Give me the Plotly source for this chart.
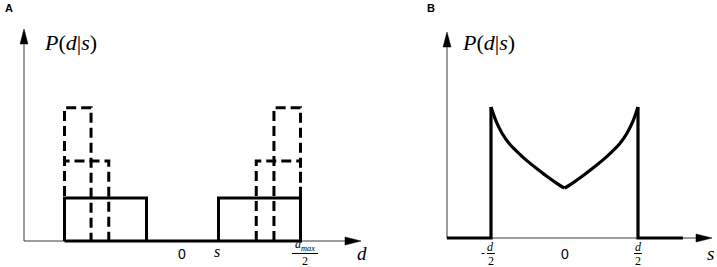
import plotly.graph_objects as go

# ---------------- data ----------------
# Panel A: d in units of d_max/2 ; heights in units of the solid (uniform) level
dmax_half = 1.0
s_val = 0.305
h_solid = 1.0
w_mid = 0.375
h_mid = 1.86
w_tall = 0.225
h_tall = 3.1

# Panel B: s in units of d/2 ; P normalised to its edge value
s_curve = [0.0, 0.1, 0.25, 0.4, 0.5, 0.6, 0.75, 0.85, 0.93, 1.0]
p_curve = [0.38, 0.415, 0.475, 0.54, 0.585, 0.635, 0.72, 0.8, 0.89, 1.0]
s_base_left = -1.6
s_base_right = 1.61

W, H = 717, 267
BLACK = "#000000"
AXC = "#3a3a3a"
SERIF = "Liberation Serif"
SANS = "Liberation Sans"

fig = go.Figure()

# ---- Panel A traces
xa = [-dmax_half, -dmax_half, -s_val, -s_val, s_val, s_val, dmax_half, dmax_half, -dmax_half]
ya = [0, h_solid, h_solid, 0, 0, h_solid, h_solid, 0, 0]
fig.add_trace(go.Scatter(x=xa, y=ya, mode="lines", xaxis="x", yaxis="y",
                         line=dict(color=BLACK, width=3), showlegend=False, hoverinfo="skip"))


def box_pair(w, h):
    xl = [-dmax_half, -dmax_half, -dmax_half + w, -dmax_half + w]
    xr = [dmax_half - w, dmax_half - w, dmax_half, dmax_half]
    yy = [0, h, h, 0]
    return xl + [None] + xr, yy + [None] + yy


for w, h in [(w_mid, h_mid), (w_tall, h_tall)]:
    bx, by = box_pair(w, h)
    fig.add_trace(go.Scatter(x=bx, y=by, mode="lines", xaxis="x", yaxis="y",
                             line=dict(color=BLACK, width=3, dash="10px,5px"),
                             showlegend=False, hoverinfo="skip"))

# ---- Panel B traces: frame (straight) + two smooth halves of the curve
fig.add_trace(go.Scatter(x=[s_base_left, -1.0, -1.0, None, 1.0, 1.0, s_base_right],
                         y=[0, 0, p_curve[-1], None, p_curve[-1], 0, 0],
                         mode="lines", xaxis="x2", yaxis="y2",
                         line=dict(color=BLACK, width=3.2), showlegend=False, hoverinfo="skip"))
fig.add_trace(go.Scatter(x=[-v for v in s_curve], y=p_curve, mode="lines", xaxis="x2", yaxis="y2",
                         line=dict(color=BLACK, width=3.2, shape="spline", smoothing=0.8),
                         showlegend=False, hoverinfo="skip"))
fig.add_trace(go.Scatter(x=s_curve, y=p_curve, mode="lines", xaxis="x2", yaxis="y2",
                         line=dict(color=BLACK, width=3.2, shape="spline", smoothing=0.8),
                         showlegend=False, hoverinfo="skip"))


# ---------------- decorations (pixel -> paper helpers) ----------------
def px(x):
    return x / W


def py(y):
    return 1 - y / H


shapes = []
annotations = []


def hline(x0, x1, y, color=AXC, width=1):
    shapes.append(dict(type="line", xref="paper", yref="paper", x0=px(x0), x1=px(x1),
                       y0=py(y), y1=py(y), line=dict(color=color, width=width), layer="below"))


def vline(x, y0, y1, color=AXC, width=1):
    shapes.append(dict(type="line", xref="paper", yref="paper", x0=px(x), x1=px(x),
                       y0=py(y0), y1=py(y1), line=dict(color=color, width=width), layer="below"))


def arrow_up(x, y):
    shapes.append(dict(type="path", xref="paper", yref="paper", xsizemode="pixel", ysizemode="pixel",
                       xanchor=px(x), yanchor=py(y), path="M0,0 L-4,-15 L4,-15 Z",
                       fillcolor=BLACK, line=dict(color=BLACK, width=0.5)))


def arrow_right(x, y):
    shapes.append(dict(type="path", xref="paper", yref="paper", xsizemode="pixel", ysizemode="pixel",
                       xanchor=px(x), yanchor=py(y), path="M0,0 L-16,4 L-16,-4 Z",
                       fillcolor=BLACK, line=dict(color=BLACK, width=0.5)))


def fbar(x0, x1, y):
    shapes.append(dict(type="line", xref="paper", yref="paper", x0=px(x0), x1=px(x1),
                       y0=py(y), y1=py(y), line=dict(color=BLACK, width=1)))


def text(x, y, t, size, family=SERIF, xanchor="center"):
    annotations.append(dict(xref="paper", yref="paper", x=px(x), y=py(y), text=t, showarrow=False,
                            xanchor=xanchor, yanchor="middle", borderpad=0,
                            font=dict(family=family, size=size, color=BLACK)))


# Panel A axes
vline(24, 267 - 26, 32)
arrow_up(24, 29)
hline(24, 346, 241)
arrow_right(361, 241)
# Panel B axes
vline(447, 238, 35)
arrow_up(447, 32)
hline(447, 697, 238)
arrow_right(712, 238)

# panel letters
text(9, 8, "<b>A</b>", 11, SANS)
text(431, 8, "<b>B</b>", 11, SANS)

# y labels
text(70, 43, "<i>P</i>(<i>d</i>|<i>s</i>)", 22)
text(489, 43, "<i>P</i>(<i>d</i>|<i>s</i>)", 22)

# Panel A tick labels
text(182, 254, "0", 14, SANS)
text(217, 251, "<i>s</i>", 16)
text(305, 245, "<i>d<sub>max</sub></i>", 12)
fbar(292, 318, 253.5)
text(305, 261, "2", 12)
text(362, 253, "<i>d</i>", 19)

# Panel B tick labels
text(483, 253, "-", 12, SANS)
text(491, 247, "<i>d</i>", 12)
fbar(487, 495, 253.5)
text(491, 261, "2", 12)
text(565, 254, "0", 14, SANS)
text(638, 247, "<i>d</i>", 12)
fbar(634, 642, 253.5)
text(638, 261, "2", 12)
text(710, 253, "<i>s</i>", 19)

# ---------------- axes (data -> pixel mapping) ----------------
fig.update_layout(
    width=W, height=H,
    margin=dict(l=0, r=0, t=0, b=0),
    paper_bgcolor="white", plot_bgcolor="white",
    xaxis=dict(domain=[0, 370 / W], range=[-182.5 / 118, 187.5 / 118], visible=False, fixedrange=True),
    yaxis=dict(domain=[0, 1], range=[-26 / 43, 241 / 43], visible=False, fixedrange=True),
    xaxis2=dict(domain=[370 / W, 1], range=[(370 - 564.5) / 73.5, (717 - 564.5) / 73.5],
                visible=False, fixedrange=True, anchor="y2"),
    yaxis2=dict(domain=[0, 1], range=[-29 / 131, 238 / 131], visible=False, fixedrange=True,
                anchor="x2"),
    shapes=shapes,
    annotations=annotations,
    showlegend=False,
)

fig.write_html("out.html", config={"displayModeBar": False},
               post_script="document.body.style.margin='0px';document.body.style.padding='0px';"
                           "document.body.style.overflow='hidden';")
